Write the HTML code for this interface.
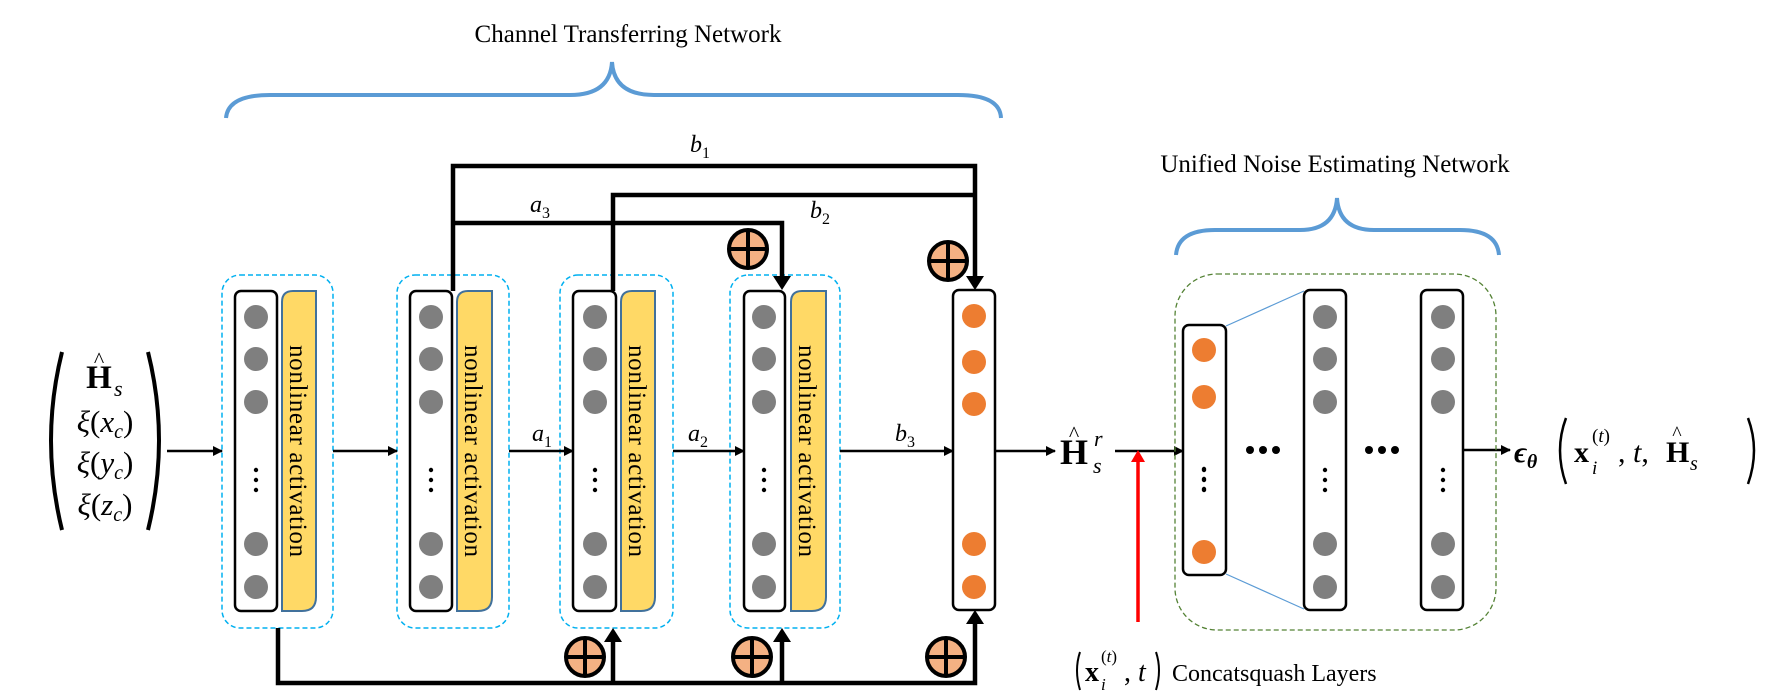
<!DOCTYPE html>
<html><head><meta charset="utf-8"><style>
html,body{margin:0;padding:0;background:#fff;}
svg{display:block;font-family:"Liberation Serif",serif;}
</style></head><body>
<svg width="1765" height="700" viewBox="0 0 1765 700" xmlns="http://www.w3.org/2000/svg">
<defs>
<marker id="ah" viewBox="0 0 10 10" refX="9" refY="5" markerWidth="4" markerHeight="4" orient="auto"><path d="M0,0L10,5L0,10z" fill="#000"/></marker>
<g id="opl"><circle r="19" fill="#f4b183" stroke="#000" stroke-width="4"/><path d="M-19,0H19M0,-19V19" stroke="#000" stroke-width="4"/></g>
</defs>

<text x="628" y="42" font-size="25" text-anchor="middle">Channel Transferring Network</text>
<text x="1335" y="172" font-size="25" text-anchor="middle">Unified Noise Estimating Network</text>

<path d="M226,118 Q228,95 270,95 L570,95 Q610,95 612,62 Q614,95 654,95 L958,95 Q1000,95 1001,118" fill="none" stroke="#5b9bd5" stroke-width="4"/>
<path d="M1176,255 Q1178,230 1215,230 L1300,230 Q1335,230 1337,198 Q1339,230 1374,230 L1460,230 Q1497,230 1499,255" fill="none" stroke="#5b9bd5" stroke-width="4"/>

<!-- left input formula -->
<path d="M62,352 Q40,440 62,530" fill="none" stroke="#000" stroke-width="4"/>
<path d="M148,352 Q170,440 148,530" fill="none" stroke="#000" stroke-width="4"/>
<text x="99" y="388" font-size="33" text-anchor="middle" font-weight="bold">H</text>
<text x="99" y="367" font-size="22" text-anchor="middle">^</text>
<text x="114" y="396" font-size="22" font-style="italic">s</text>
<text x="105" y="432" font-size="31" text-anchor="middle" font-style="italic">ξ<tspan font-style="normal">(</tspan>x<tspan font-size="20" dy="6">c</tspan><tspan font-style="normal" dy="-6">)</tspan></text>
<text x="105" y="473" font-size="31" text-anchor="middle" font-style="italic">ξ<tspan font-style="normal">(</tspan>y<tspan font-size="20" dy="6">c</tspan><tspan font-style="normal" dy="-6">)</tspan></text>
<text x="105" y="515" font-size="31" text-anchor="middle" font-style="italic">ξ<tspan font-style="normal">(</tspan>z<tspan font-size="20" dy="6">c</tspan><tspan font-style="normal" dy="-6">)</tspan></text>

<g fill="none" stroke="#00b0f0" stroke-width="1.5" stroke-dasharray="5,3">
<rect x="222" y="275" width="111" height="353" rx="18"/>
<rect x="397" y="275" width="112" height="353" rx="18"/>
<rect x="560" y="275" width="113" height="353" rx="18"/>
<rect x="730" y="275" width="110" height="353" rx="18"/>
</g>

<g stroke="#000" stroke-width="2.5" fill="#fff">
<rect x="235" y="291" width="42" height="320" rx="6"/>
<rect x="410" y="291" width="42" height="320" rx="6"/>
<rect x="573" y="291" width="43" height="320" rx="6"/>
<rect x="744" y="291" width="41" height="320" rx="6"/>
</g>
<g fill="#ffd966" stroke="#41719c" stroke-width="2">
<path d="M282,611V302Q282,291 293,291H316V597Q316,611 302,611Z"/>
<path d="M457,611V302Q457,291 468,291H492V597Q492,611 478,611Z"/>
<path d="M621,611V302Q621,291 632,291H655V597Q655,611 641,611Z"/>
<path d="M791,611V302Q791,291 802,291H826V597Q826,611 812,611Z"/>
</g>
<g font-size="25">
<text transform="translate(290,451) rotate(90)" text-anchor="middle" textLength="212">nonlinear activation</text>
<text transform="translate(465,451) rotate(90)" text-anchor="middle" textLength="212">nonlinear activation</text>
<text transform="translate(629,451) rotate(90)" text-anchor="middle" textLength="212">nonlinear activation</text>
<text transform="translate(799,451) rotate(90)" text-anchor="middle" textLength="212">nonlinear activation</text>
</g>
<g fill="#7f7f7f">
<g id="gc"><circle cx="256" cy="317" r="12"/><circle cx="256" cy="359" r="12"/><circle cx="256" cy="402" r="12"/><circle cx="256" cy="544" r="12"/><circle cx="256" cy="587" r="12"/></g>
<use href="#gc" x="175"/><use href="#gc" x="339"/><use href="#gc" x="508"/>
<use href="#gc" x="1069"/><use href="#gc" x="1187"/>
</g>
<g fill="#000">
<g id="vd"><circle cx="256" cy="470" r="2.2"/><circle cx="256" cy="480" r="2.2"/><circle cx="256" cy="490" r="2.2"/></g>
<use href="#vd" x="175"/><use href="#vd" x="339"/><use href="#vd" x="508"/><use href="#vd" x="718"/>
<use href="#vd" x="948"/><use href="#vd" x="1069"/><use href="#vd" x="1187"/>
<circle cx="1250" cy="450" r="4"/><circle cx="1263" cy="450" r="4"/><circle cx="1276" cy="450" r="4"/>
<circle cx="1369" cy="450" r="4"/><circle cx="1382" cy="450" r="4"/><circle cx="1395" cy="450" r="4"/>
</g>

<rect x="953" y="290" width="42" height="320" rx="6" fill="#fff" stroke="#000" stroke-width="2.5"/>
<g fill="#ed7d31">
<circle cx="974" cy="316" r="12"/><circle cx="974" cy="362" r="12"/><circle cx="974" cy="404" r="12"/><circle cx="974" cy="544" r="12"/><circle cx="974" cy="587" r="12"/>
</g>

<g stroke="#000" stroke-width="2.5" fill="none" marker-end="url(#ah)">
<path d="M167,451H222"/><path d="M333,451H397"/><path d="M509,451H573"/><path d="M673,451H744"/><path d="M840,451H953"/><path d="M995,451H1055"/>
<path d="M1115,451H1183"/><path d="M1463,450H1510"/>
</g>
<g font-size="24" font-style="italic">
<text x="532" y="441">a<tspan font-size="16" font-style="normal" dy="6">1</tspan></text>
<text x="688" y="441">a<tspan font-size="16" font-style="normal" dy="6">2</tspan></text>
<text x="895" y="441">b<tspan font-size="16" font-style="normal" dy="6">3</tspan></text>
<text x="690" y="152">b<tspan font-size="16" font-style="normal" dy="6">1</tspan></text>
<text x="530" y="212">a<tspan font-size="16" font-style="normal" dy="6">3</tspan></text>
<text x="810" y="218">b<tspan font-size="16" font-style="normal" dy="6">2</tspan></text>
</g>

<g stroke="#000" stroke-width="4.5" fill="none">
<path d="M453,291V166H975V278"/>
<path d="M613,291V195H975"/>
<path d="M453,223H782V278"/>
<path d="M278,628V683H975V620"/>
<path d="M613,683V640"/>
<path d="M782,683V640"/>
</g>
<g fill="#000">
<path d="M966,276L984,276L975,290Z"/>
<path d="M773,276L791,276L782,290Z"/>
<path d="M604,642L622,642L613,628Z"/>
<path d="M773,642L791,642L782,628Z"/>
<path d="M966,624L984,624L975,610Z"/>
</g>
<use href="#opl" x="948" y="261"/>
<use href="#opl" x="748" y="249"/>
<use href="#opl" x="585" y="657"/>
<use href="#opl" x="752" y="657"/>
<use href="#opl" x="946" y="657"/>

<!-- H_s^r -->
<text x="1060" y="464" font-size="36" font-weight="bold">H</text>
<text x="1074" y="441" font-size="22" text-anchor="middle">^</text>
<text x="1094" y="446" font-size="22" font-style="italic">r</text>
<text x="1093" y="473" font-size="22" font-style="italic">s</text>

<path d="M1138,622V458" stroke="#f00" stroke-width="3.5" fill="none"/>
<path d="M1131,462L1145,462L1138,450Z" fill="#f00"/>

<rect x="1175" y="274" width="321" height="356" rx="42" fill="none" stroke="#548235" stroke-width="1.3" stroke-dasharray="5,3"/>
<path d="M1226,326L1304,291M1226,574L1304,609" stroke="#5b9bd5" stroke-width="1.2"/>
<g stroke="#000" stroke-width="2.5" fill="none">
<rect x="1183" y="325" width="43" height="250" rx="6"/>
<rect x="1304" y="290" width="42" height="320" rx="6"/>
<rect x="1421" y="290" width="42" height="320" rx="6"/>
</g>
<g fill="#ed7d31"><circle cx="1204" cy="350" r="12"/><circle cx="1204" cy="397" r="12"/><circle cx="1204" cy="552" r="12"/></g>
<g fill="#000"><circle cx="1204" cy="469" r="2.2"/><circle cx="1204" cy="479" r="2.2"/><circle cx="1204" cy="489" r="2.2"/></g>

<!-- output formula -->
<text x="1514" y="462" font-size="30" font-weight="bold" font-style="italic">ϵ<tspan font-size="20" dy="6">θ</tspan></text>
<path d="M1566,418 Q1554,450 1566,484" fill="none" stroke="#000" stroke-width="2.5"/>
<text x="1574" y="462" font-size="30" font-weight="bold">x</text>
<text x="1592" y="442" font-size="19">(<tspan font-style="italic">t</tspan>)</text>
<text x="1592" y="474" font-size="19" font-style="italic">i</text>
<text x="1618" y="462" font-size="30">, <tspan font-style="italic">t</tspan>,</text>
<text x="1666" y="462" font-size="30" font-weight="bold">H</text>
<text x="1677" y="440" font-size="20" text-anchor="middle">^</text>
<text x="1690" y="470" font-size="20" font-style="italic">s</text>
<path d="M1748,418 Q1760,450 1748,484" fill="none" stroke="#000" stroke-width="2.5"/>

<path d="M1080,652 Q1074,670 1080,690" fill="none" stroke="#000" stroke-width="2"/>
<text x="1085" y="681" font-size="28" font-weight="bold">x</text>
<text x="1101" y="662" font-size="17">(<tspan font-style="italic">t</tspan>)</text>
<text x="1101" y="690" font-size="17" font-style="italic">i</text>
<text x="1124" y="681" font-size="28">, <tspan font-style="italic">t</tspan></text>
<path d="M1156,652 Q1162,670 1156,690" fill="none" stroke="#000" stroke-width="2"/>
<text x="1172" y="681" font-size="24">Concatsquash Layers</text>
</svg>
</body></html>
